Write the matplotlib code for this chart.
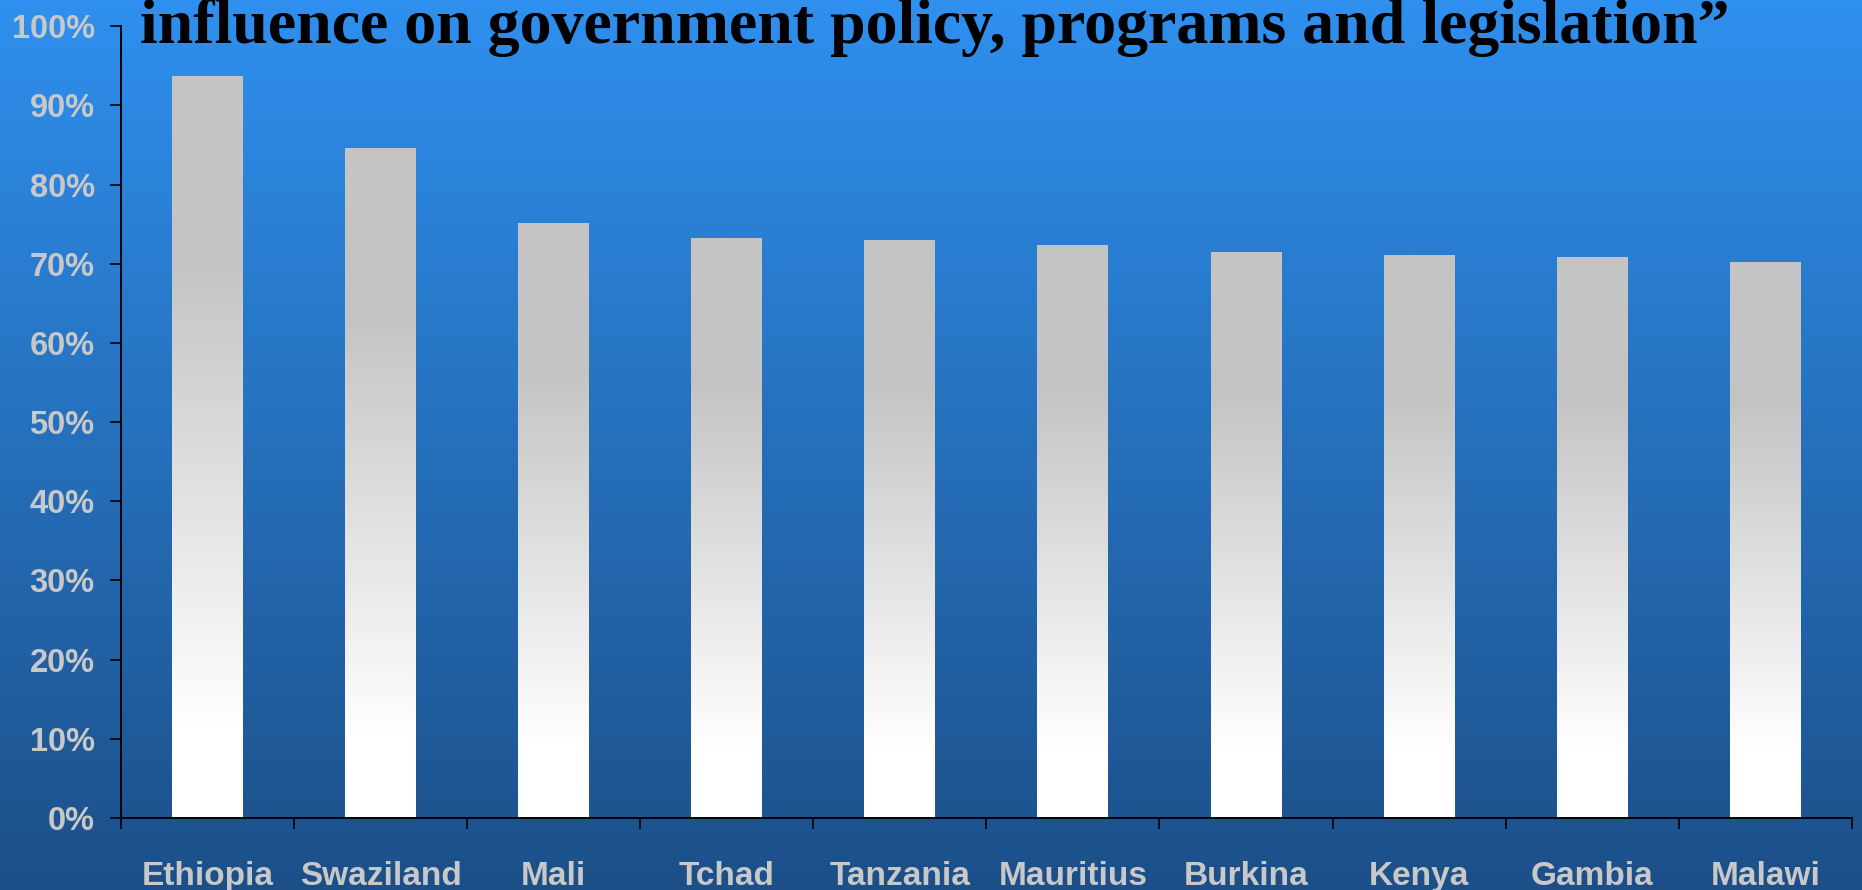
import numpy as np
import matplotlib.pyplot as plt
from matplotlib.colors import LinearSegmentedColormap

# Share of respondents agreeing, by country
countries = ["Ethiopia", "Swaziland", "Mali", "Tchad", "Tanzania",
             "Mauritius", "Burkina", "Kenya", "Gambia", "Malawi"]
shares = [93.7, 84.6, 75.1, 73.3, 73.0, 72.4, 71.5, 71.1, 70.8, 70.2]
yticks = [0, 10, 20, 30, 40, 50, 60, 70, 80, 90, 100]

label_grey = "#c8c8c8"

fig = plt.figure(figsize=(18.62, 8.9), dpi=100)

# blue gradient backdrop over the whole figure
bg = fig.add_axes([0, 0, 1, 1], zorder=0)
bg_cmap = LinearSegmentedColormap.from_list("bg", ["#1c4f88", "#2f90ef"])
bg.imshow(np.linspace(0, 1, 256).reshape(-1, 1), cmap=bg_cmap, aspect="auto",
          origin="lower", extent=[0, 1, 0, 1])
bg.axis("off")

ax = fig.add_axes([0.065, 0.081, 0.9295, 0.8895], zorder=1)
ax.patch.set_alpha(0)

x = np.arange(len(countries))
bars = ax.bar(x, shares, width=0.41, color="none", edgecolor="none")

# grey-to-white fill inside each bar
t = np.linspace(0, 1, 256)
level = np.interp(t, [0, 0.12, 0.75, 1], [1.0, 1.0, 0.0, 0.0])
bar_cmap = LinearSegmentedColormap.from_list("bar", ["#c4c4c4", "#ffffff"])
for b in bars:
    x0 = b.get_x()
    im = ax.imshow(level.reshape(-1, 1), cmap=bar_cmap, vmin=0, vmax=1,
                   aspect="auto", origin="lower",
                   extent=[x0, x0 + b.get_width(), 0, b.get_height()], zorder=2)
    im.set_clip_path(b)

ax.set_xlim(-0.5, len(countries) - 0.5)
ax.set_ylim(0, 100)

ax.set_yticks(yticks)
ax.set_yticklabels([f"{v}%" for v in yticks])
ax.set_xticks(x)
ax.set_xticklabels(countries)
ax.set_xticks(np.arange(len(countries) + 1) - 0.5, minor=True)

ax.tick_params(axis="y", direction="out", length=8, width=1.2, color="black",
               pad=11, labelsize=23.5, labelcolor=label_grey)
ax.tick_params(axis="x", which="major", length=0, pad=31, labelsize=24,
               labelcolor=label_grey)
ax.tick_params(axis="x", which="minor", direction="out", length=8, width=1.2,
               color="black")
for lab in ax.get_xticklabels() + ax.get_yticklabels():
    lab.set_fontfamily("Liberation Sans")
    lab.set_fontweight("bold")

for side in ("top", "right"):
    ax.spines[side].set_visible(False)
for side in ("left", "bottom"):
    ax.spines[side].set_color("black")
    ax.spines[side].set_linewidth(1.4)

fig.text(0.0752, 0.9517,
         "influence on government policy, programs and legislation\u201d",
         fontfamily="Liberation Serif", fontweight="bold", fontsize=46,
         color="black", ha="left", va="baseline", zorder=3)

fig.savefig("out.png", dpi=100)
